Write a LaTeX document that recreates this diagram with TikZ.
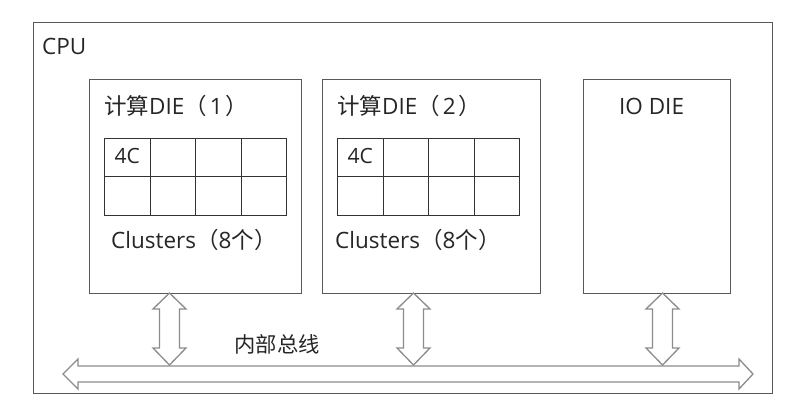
\documentclass[tikz,border=0pt]{standalone}
\usepackage{fontspec}
\setmainfont{Open Sans}
\newfontfamily\cjk{Noto Sans CJK SC}
\begin{document}
\begin{tikzpicture}[x=1pt,y=-1pt,
  box/.style={draw=black!65, line width=1.2pt, fill=white, inner sep=0pt, anchor=north west},
  cell/.style={draw=black!80, line width=0.9pt, minimum width=45.5pt, minimum height=38.5pt, inner sep=0pt, anchor=north west},
  lbl/.style={inner sep=0pt, anchor=west, font=\fontsize{22.5}{26}\selectfont, text=black!85},
  flow/.style={draw=black!45, line width=1.3pt, fill=white, line join=miter},
  vdarrow/.pic={\draw[flow] (0,0) -- (16.5,16) -- (10,16) -- (10,55) -- (16.5,55) -- (0,72) -- (-16.5,55) -- (-10,55) -- (-10,16) -- (-16.5,16) -- cycle;}
]
\useasboundingbox (0,0) rectangle (785,409);
\fill[white] (0,0) rectangle (785,409);
\node[box, minimum width=739pt, minimum height=371pt] (cpu) at (33,22) {};
\node[lbl] (cpulbl) at (42,46) {CPU};
% dies
\node[box, minimum width=212pt, minimum height=214pt] (die1) at (89,79) {};
\node[box, minimum width=218pt, minimum height=214pt] (die2) at (322,79) {};
\node[box, minimum width=147pt, minimum height=214pt] (io) at (583,79) {};
\node[lbl] (t1) at (104,106) {{\cjk 计算}DIE{\cjk （}\hspace{3pt}1\hspace{3pt}{\cjk ）}};
\node[lbl] (t2) at (337,106) {{\cjk 计算}DIE{\cjk （}\hspace{3pt}2\hspace{3pt}{\cjk ）}};
\node[lbl] (t3) at (619,106) {IO DIE};
% cluster grids
\foreach \gx/\g in {104/a,337/b}{
  \foreach \r in {0,1}{
    \foreach \c in {0,1,2,3}{
      \node[cell] (\g-\r-\c) at ({\gx+45.5*\c},{138+38.5*\r}) {};
    }
  }
}
\node[font=\fontsize{21}{24}\selectfont, text=black!85] (c1) at ([yshift=1.5pt]a-0-0.center) {4C};
\node[font=\fontsize{21}{24}\selectfont, text=black!85] (c2) at ([yshift=1.5pt]b-0-0.center) {4C};
\node[lbl] (cl1) at (111,240) {Clusters{\cjk （}8{\cjk 个}\hspace{1pt}{\cjk ）}};
\node[lbl] (cl2) at (335,240) {Clusters{\cjk （}8{\cjk 个}\hspace{1pt}{\cjk ）}};
% vertical bus connectors
\pic at (169.5,293) {vdarrow};
\pic at (413.5,293) {vdarrow};
\pic at (662.5,293) {vdarrow};
% internal bus
\draw[flow] (63,374) -- (78,359) -- (78,366) -- (739,366) -- (739,359) -- (753,374) -- (739,389) -- (739,382) -- (78,382) -- (78,389) -- cycle;
\node[font=\cjk\fontsize{21.3}{24}\selectfont, text=black!85, inner sep=0pt] (bus) at (277,344) {内部总线};
\end{tikzpicture}
\end{document}
